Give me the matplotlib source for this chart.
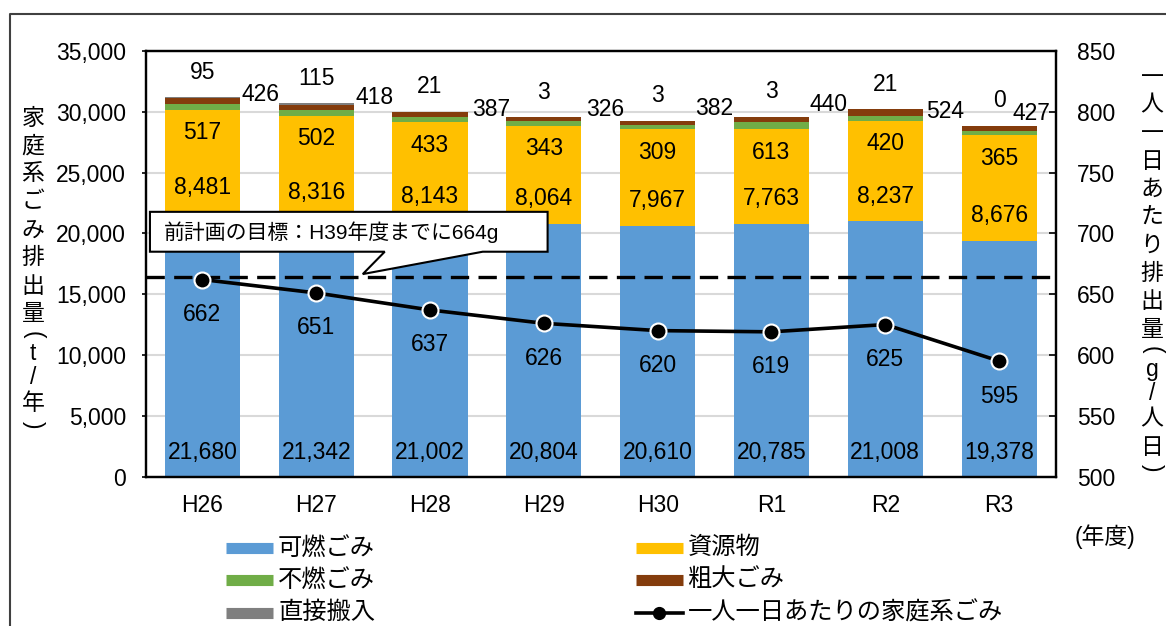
import matplotlib
matplotlib.use("Agg")
import matplotlib.pyplot as plt
from matplotlib.lines import Line2D
from matplotlib.patches import Polygon
from matplotlib.ticker import FuncFormatter
import numpy as np

plt.rcParams['font.family'] = ['Liberation Sans', 'Noto Sans CJK JP']

# ---- data -------------------------------------------------------------
years = ["H26", "H27", "H28", "H29", "H30", "R1", "R2", "R3"]
burnable = [21680, 21342, 21002, 20804, 20610, 20785, 21008, 19378]      # 可燃ごみ
recyclables = [8481, 8316, 8143, 8064, 7967, 7763, 8237, 8676]           # 資源物
non_burnable = [517, 502, 433, 343, 309, 613, 420, 365]                  # 不燃ごみ
oversized = [426, 418, 387, 326, 382, 440, 524, 427]                     # 粗大ごみ
direct_delivery = [95, 115, 21, 3, 3, 3, 21, 0]                          # 直接搬入
per_capita = [662, 651, 637, 626, 620, 619, 625, 595]                    # g/人日
target_per_capita = 664

series_names = ["可燃ごみ", "資源物", "不燃ごみ", "粗大ごみ", "直接搬入"]
line_name = "一人一日あたりの家庭系ごみ"
target_text = "前計画の目標：H39年度までに664g"

# ---- styling ------------------------------------------------------------
colors = ["#5B9BD5", "#FFC000", "#70AD47", "#843C0C", "#7F7F7F"]
W, H = 1166, 626
FS = 16.5
PX = 0.72  # points per pixel at 100 dpi

fig = plt.figure(figsize=(W / 100, H / 100), dpi=100)
ax_l, ax_r, ax_t, ax_b = 145.5, 1056, 51, 476.5
ax = fig.add_axes([ax_l / W, 1 - ax_b / H, (ax_r - ax_l) / W, (ax_b - ax_t) / H])

x = np.arange(len(years))
bar_w = 0.66
stack = [burnable, recyclables, non_burnable, oversized, direct_delivery]
bottom = np.zeros(len(years))
bottoms = []
for vals, c in zip(stack, colors):
    bottoms.append(bottom.copy())
    ax.bar(x, vals, bar_w, bottom=bottom, color=c, zorder=2, linewidth=0)
    bottom = bottom + np.array(vals)
totals = bottom

ax.set_xlim(-0.5, len(years) - 0.5)
ax.set_ylim(0, 35000)
ax.set_yticks(np.arange(0, 35001, 5000))
ax.yaxis.set_major_formatter(FuncFormatter(lambda v, p: f"{int(v):,}"))
ax.set_xticks(x)
ax.set_xticklabels(years)
ax.yaxis.grid(True, color="#d9d9d9", lw=1.5, zorder=0)
ax.set_axisbelow(True)
ax.tick_params(axis="x", length=0, labelsize=FS, pad=12.5)
ax.tick_params(axis="y", direction="out", length=3, width=1.2, labelsize=FS, pad=11)

# ---- bar value labels ---------------------------------------------------
for i in x:
    ax.annotate(f"{burnable[i]:,}", (i, 0), xytext=(0, 24.5 * PX), textcoords="offset points",
                ha="center", va="center", fontsize=FS, zorder=6)
    ax.annotate(f"{recyclables[i]:,}", (i, bottoms[1][i]), xytext=(0, 25 * PX),
                textcoords="offset points", ha="center", va="center", fontsize=FS, zorder=6)
    ax.annotate(f"{non_burnable[i]:,}", (i, bottoms[2][i]), xytext=(0, -23 * PX),
                textcoords="offset points", ha="center", va="center", fontsize=FS, zorder=6)
    ax.annotate(f"{direct_delivery[i]:,}", (i, totals[i]), xytext=(0, 25 * PX),
                textcoords="offset points", ha="center", va="center", fontsize=FS, zorder=6)

# oversized-waste labels sit beside each bar (pixel shifts from bar edge / segment middle)
oversized_shift = [(2, 6), (2, 10), (5, 5), (5, 10), (0, 15), (0, 15), (3, 1), (-24, 15)]
for i in x:
    mid = bottoms[3][i] + oversized[i] / 2
    dx, dy = oversized_shift[i]
    ax.annotate(f"{oversized[i]:,}", (i + bar_w / 2, mid), xytext=(dx * PX, dy * PX),
                textcoords="offset points", ha="left", va="center", fontsize=FS, zorder=6)

# ---- per-capita line on the secondary axis -----------------------------
ax2 = ax.twinx()
ax2.set_ylim(500, 850)
ax2.set_yticks(np.arange(500, 851, 50))
ax2.tick_params(axis="y", direction="in", length=5, width=1.2, labelsize=FS, pad=15)

ax2.axhline(target_per_capita, color="black", lw=2.4, ls=(0, (5.5, 2.8)), zorder=3)
ax2.plot(x, per_capita, color="black", lw=2.6, marker="o", ms=11.5, mfc="black",
         mec="white", mew=1.5, zorder=5, solid_capstyle="round")
for i in x:
    ax2.annotate(f"{per_capita[i]}", (i, per_capita[i]), xytext=(0, -35 * PX),
                 textcoords="offset points", ha="center", va="center", fontsize=FS, zorder=6)

# callout box for the target line
bx0, bx1 = -0.461, 3.033
by0, by1 = 684.9, 717.7
callout = Polygon([(bx0, by1), (bx1, by1), (bx1, by0), (2.463, by0),
                   (1.409, target_per_capita + 2.5), (1.602, by0), (bx0, by0)],
                  closed=True, facecolor="white", edgecolor="black", lw=1.5, zorder=7)
ax2.add_patch(callout)
ax2.text(-0.335, (by0 + by1) / 2, target_text, ha="left", va="center", fontsize=15, zorder=8)

for a in (ax, ax2):
    for s in a.spines.values():
        s.set_color("black")
        s.set_linewidth(1.6)

# ---- vertical axis titles -------------------------------------------------
def vertical_label(x_px, y_first_px, text, fontsize=16.5):
    """Stack characters top-to-bottom; brackets are turned to lie across the column."""
    y = y_first_px
    prev = None
    for ch in text:
        h = 14 if ch in "()" else (24 if ch.isascii() else 28)
        if prev is not None:
            y += (prev + h) / 2
        if ch in "()":
            fig.text(x_px / W, 1 - y / H, ch, ha="center", va="center", fontsize=fontsize,
                     rotation=-90, family=["Liberation Sans"])
        else:
            fig.text(x_px / W, 1 - y / H, ch, ha="center", va="center", fontsize=fontsize)
        prev = h

vertical_label(33, 118, "家庭系ごみ排出量(t/年)")
vertical_label(1152, 77, "一人一日あたり排出量(g/人日)")

fig.text(1105 / W, 1 - 537 / H, "(年度)", ha="center", va="center", fontsize=FS)

# ---- legend ---------------------------------------------------------------
rows_y = [548, 580, 613]
cols_x = [226, 636]
LFS = 17.5
entries = [(series_names[0], colors[0], 0, 0), (series_names[1], colors[1], 0, 1),
           (series_names[2], colors[2], 1, 0), (series_names[3], colors[3], 1, 1),
           (series_names[4], colors[4], 2, 0)]
for name, c, r, col in entries:
    x0 = cols_x[col]
    yy = 1 - rows_y[r] / H
    fig.add_artist(Line2D([x0 / W, (x0 + 47) / W], [yy, yy], color=c, lw=8, solid_capstyle="butt"))
    fig.text((x0 + 52) / W, yy, name, ha="left", va="center", fontsize=LFS)
x0 = cols_x[1]
yy = 1 - rows_y[2] / H
fig.add_artist(Line2D([x0 / W, (x0 + 47) / W], [yy, yy], color="black", lw=2.6))
fig.add_artist(Line2D([(x0 + 23.5) / W], [yy], color="black", marker="o", ms=8.5, lw=0))
fig.text((x0 + 52) / W, yy, line_name, ha="left", va="center", fontsize=LFS)

# ---- outer frame ------------------------------------------------------------
fy = 1 - 14 / H
fig.add_artist(Line2D([10 / W, 10 / W, 1.01], [-0.01, fy, fy], color="#404040", lw=1.5))

fig.savefig("out.png", dpi=100)
